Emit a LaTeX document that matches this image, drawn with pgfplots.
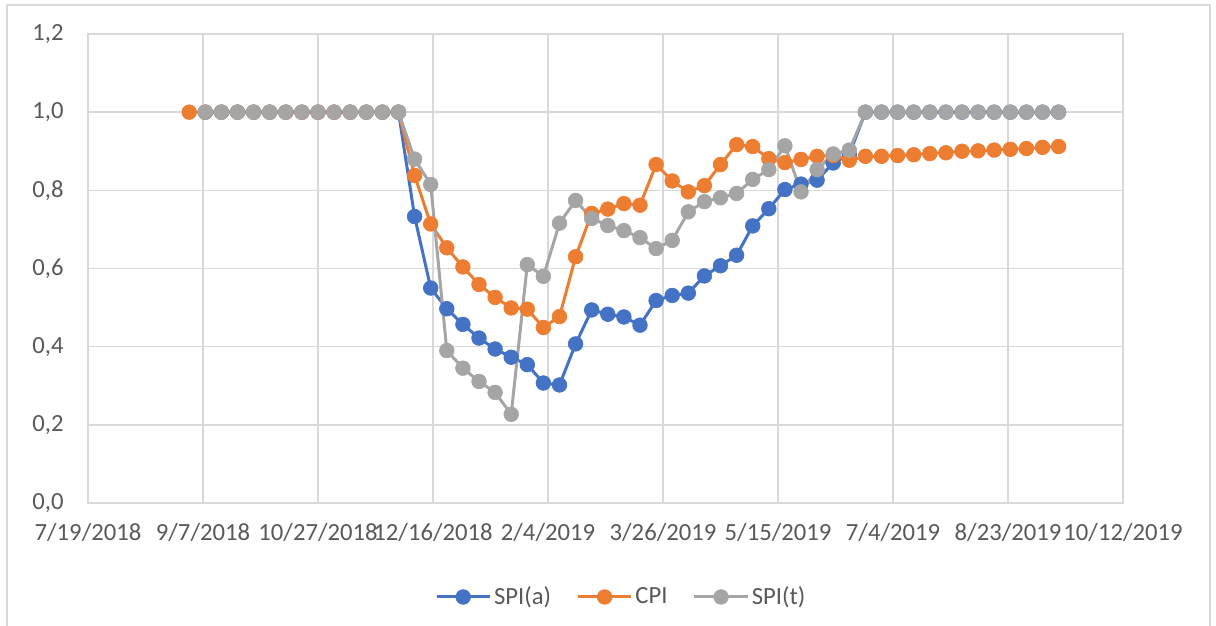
\documentclass[border=0pt]{standalone}
\usepackage{pgfplots}
\usepackage{pgfplotstable}
\pgfplotsset{compat=1.18}
\usepackage{fontspec}
\setmainfont{Carlito}
\definecolor{cblue}{HTML}{4472C4}
\definecolor{corange}{HTML}{ED7D31}
\definecolor{cgrey}{HTML}{A5A5A5}
\definecolor{gridc}{HTML}{D9D9D9}
\definecolor{txt}{HTML}{595959}
\pgfplotstableread{
d a c t
44 nan 1.0 nan
51 1.0 1.0 1.0
58 1.0 1.0 1.0
65 1.0 1.0 1.0
72 1.0 1.0 1.0
79 1.0 1.0 1.0
86 1.0 1.0 1.0
93 1.0 1.0 1.0
100 1.0 1.0 1.0
107 1.0 1.0 1.0
114 1.0 1.0 1.0
121 1.0 1.0 1.0
128 1.0 1.0 1.0
135 1.0 1.0 1.0
142 0.733 0.838 0.880
149 0.550 0.714 0.815
156 0.497 0.653 0.390
163 0.457 0.604 0.345
170 0.422 0.559 0.311
177 0.394 0.526 0.283
184 0.373 0.499 0.227
191 0.354 0.496 0.610
198 0.307 0.449 0.580
205 0.302 0.477 0.716
212 0.407 0.630 0.774
219 0.494 0.741 0.728
226 0.483 0.752 0.710
233 0.476 0.766 0.697
240 0.455 0.762 0.679
247 0.518 0.866 0.651
254 0.531 0.824 0.672
261 0.537 0.796 0.745
268 0.581 0.812 0.771
275 0.607 0.866 0.781
282 0.634 0.917 0.792
289 0.709 0.912 0.828
296 0.753 0.881 0.853
303 0.802 0.871 0.914
310 0.816 0.879 0.796
317 0.826 0.887 0.853
324 0.870 0.889 0.893
331 0.892 0.877 0.903
338 1.0 0.887 1.0
345 1.0 0.887 1.0
352 1.0 0.889 1.0
359 1.0 0.891 1.0
366 1.0 0.894 1.0
373 1.0 0.896 1.0
380 1.0 0.900 1.0
387 1.0 0.901 1.0
394 1.0 0.903 1.0
401 1.0 0.905 1.0
408 1.0 0.907 1.0
415 1.0 0.910 1.0
422 1.0 0.912 1.0
}\datatable
\begin{document}
\fontsize{18.5}{22}\selectfont
\begin{tikzpicture}
\useasboundingbox (0,0) rectangle (912pt,468.75pt);
\draw[gridc, line width=1.5pt] (5.25pt,-5pt) rectangle (907.5pt,465pt);
\begin{axis}[
  at={(66pt,91.5pt)}, anchor=south west,
  scale only axis, width=776.25pt, height=351.75pt,
  xmin=0, xmax=450, ymin=0, ymax=1.2,
  xtick={0,50,...,450},
  xticklabels={7/19/2018,9/7/2018,10/27/2018,12/16/2018,2/4/2019,3/26/2019,5/15/2019,7/4/2019,8/23/2019,10/12/2019},
  ytick={0,0.2,...,1.21},
  grid=major,
  major grid style={gridc, line width=1.2pt},
  axis line style={gridc, line width=1.2pt},
  major tick length=0pt,
  tick label style={font=\fontsize{18.5}{22}\selectfont, text=txt},
  xticklabel style={yshift=-9pt},
  yticklabel style={xshift=-12pt},
  /pgf/number format/.cd, fixed, fixed zerofill, precision=1, use comma, assume math mode=true,
  /pgfplots/.cd,
  legend columns=3,
  legend style={at={(0.5155,-0.2004)}, anchor=center, draw=none, fill=none,
    font=\fontsize{18.5}{22}\selectfont, text=txt,
    /tikz/every even column/.append style={column sep=17pt},
    inner sep=0pt, nodes={inner sep=2pt}},
  legend image code/.code={\draw[mark repeat=2,mark phase=2] plot coordinates {(0pt,0pt) (20pt,0pt) (40pt,0pt)};},
  every axis plot/.append style={line width=2.25pt, mark=*, mark size=5.5pt},
]
\addplot[cblue, mark options={fill=cblue, draw=cblue, line width=0.5pt}] table[x=d, y=a] {\datatable};
\addlegendentry{SPI(a)}
\addplot[corange, mark options={fill=corange, draw=corange, line width=0.5pt}] table[x=d, y=c] {\datatable};
\addlegendentry{CPI}
\addplot[cgrey, mark options={fill=cgrey, draw=cgrey, line width=0.5pt}] table[x=d, y=t] {\datatable};
\addlegendentry{SPI(t)}
\end{axis}
\end{tikzpicture}
\end{document}
